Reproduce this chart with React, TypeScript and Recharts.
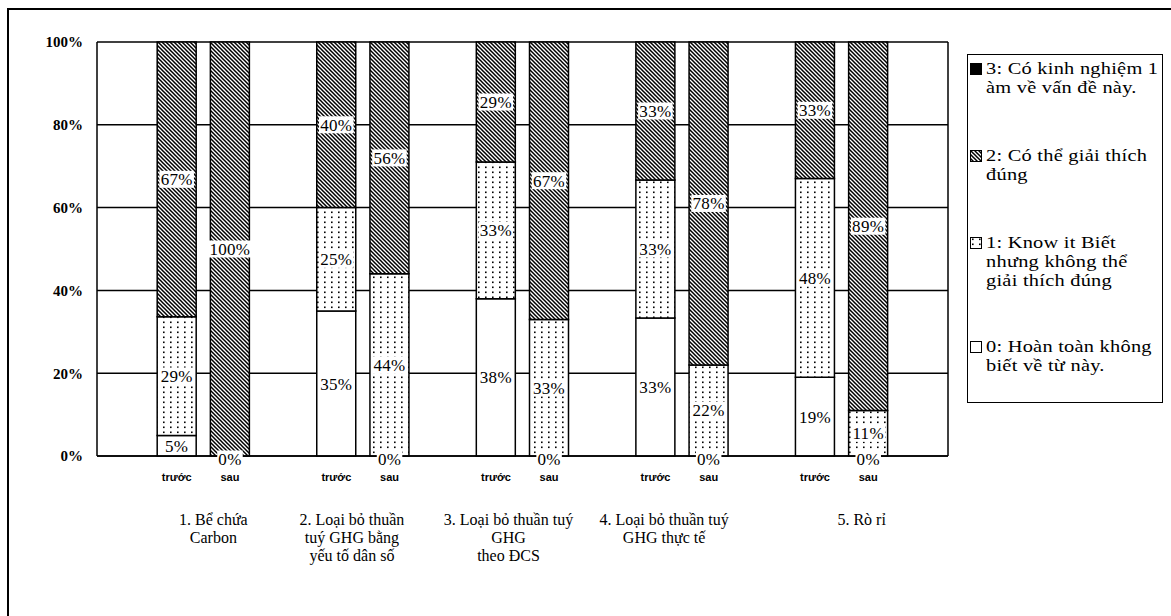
import React from "react";
import { BarChart, Bar, XAxis, YAxis, CartesianGrid, LabelList } from "recharts";

const W = 1171;
const H = 616;
// plot rectangle inside the chart
const PLOT = { left: 97, right: 948, top: 42, bottom: 456 };
const SLOT_HALF = (PLOT.right - PLOT.left) / 16 / 2;

const serif = "'Liberation Serif', 'Times New Roman', serif";
const sans = "'Liberation Sans', Arial, sans-serif";

// one empty slot before every pair and after the last one
const slotKinds = ["", "trước", "sau", "", "trước", "sau", "", "trước", "sau", "", "trước", "sau", "", "trước", "sau", ""];

const groupNames = [
  ["1. Bể chứa", "Carbon"],
  ["2. Loại bỏ thuần", "tuý GHG bằng", "yếu tố dân số"],
  ["3. Loại bỏ thuần tuý", "GHG", "theo ĐCS"],
  ["4. Loại bỏ thuần tuý", "GHG thực tế"],
  ["5. Rò rỉ"],
];
// nudges for the wrapped group captions
const groupShift = [10, -11, -14, -18, 20];

// share of answers (%), trước then sau for each group
const level0 = [5, 0, 35, 0, 38, 0, 33, 0, 19, 0];
const level1 = [29, null, 25, 44, 33, 33, 33, 22, 48, 11];
const level2 = [67, 100, 40, 56, 29, 67, 33, 78, 33, 89];
const level3 = [null, null, null, null, null, null, null, null, null, null];

const levelLegend = [
  ["0: Hoàn toàn không", "biết về từ này."],
  ["1: Know it Biết", "nhưng không thể", "giải thích đúng"],
  ["2: Có thể giải thích", "đúng"],
  ["3: Có kinh nghiệm 1", "àm về vấn đề này."],
];
const levelFill = ["#fff", "url(#dots)", "url(#hatch)", "#000"];

const yTicks = [0, 0.2, 0.4, 0.6, 0.8, 1];

let pairIdx = 0;
const rows = slotKinds.map((kind, i) => {
  const row: Record<string, any> = { slot: `s${i}`, kind, group: -1, l0: null, l1: null, l2: null, l3: null };
  if (kind) {
    row.group = Math.floor(pairIdx / 2);
    row.l0 = level0[pairIdx];
    row.l1 = level1[pairIdx];
    row.l2 = level2[pairIdx];
    row.l3 = level3[pairIdx];
    pairIdx++;
  }
  return row;
});

function labelWidth(text: string) {
  let w = 0;
  for (const ch of text) w += ch === "%" ? 14.5 : 9;
  return w + 2;
}

// value tag with a white box that breaks the fill pattern
function ValueTag({ cx, cy, value }: { cx: number; cy: number; value: number }) {
  const text = `${value}%`;
  const w = labelWidth(text);
  return (
    <g>
      <rect x={cx - w / 2} y={cy - 8.5} width={w} height={17} fill="#fff" />
      <text x={cx} y={cy + 6} textAnchor="middle" fontFamily={serif} fontSize={17} letterSpacing={0.3} fill="#000">
        {text}
      </text>
    </g>
  );
}

function SegmentLabel(props: any) {
  const { value } = props;
  if (value === null || value === undefined) return null;
  const vb = props.viewBox ?? props;
  return <ValueTag cx={vb.x + vb.width / 2} cy={vb.y + vb.height / 2} value={value} />;
}

function SlotTick({ x, y, payload }: any) {
  const row = rows[payload.index];
  if (!row || !row.kind) return <g />;
  const showGroup = row.kind === "trước";
  const lines = showGroup ? groupNames[row.group] : [];
  const gx = x + SLOT_HALF + groupShift[row.group];
  return (
    <g>
      {/* a zero-height bottom segment still carries its 0% tag on the baseline */}
      {row.l0 === 0 && <ValueTag cx={x} cy={y + 3} value={0} />}
      <text x={x} y={y + 25} textAnchor="middle" fontFamily={sans} fontWeight="bold" fontSize={11} fill="#000">
        {row.kind}
      </text>
      {lines.map((line: string, i: number) => (
        <text key={i} x={gx} y={y + 69 + i * 18} textAnchor="middle" fontFamily={serif} fontSize={16} fill="#000">
          {line}
        </text>
      ))}
    </g>
  );
}

function LegendIcon({ level }: { level: number }) {
  return (
    <svg width={12} height={12} style={{ display: "block" }}>
      <rect x={0.5} y={0.5} width={11} height={11} fill={levelFill[level]} stroke="#000" strokeWidth={1} />
    </svg>
  );
}

function LevelLegend() {
  const order = [3, 2, 1, 0];
  return (
    <div
      style={{
        position: "absolute",
        left: 967,
        top: 54,
        width: 196,
        height: 349,
        border: "1.5px solid #000",
        boxSizing: "border-box",
        padding: "4px 0 0 2px",
        fontFamily: serif,
        fontSize: 17,
        lineHeight: "19px",
        color: "#000",
      }}
    >
      {order.map((lv) => (
        <div key={lv} style={{ display: "flex", alignItems: "flex-start", marginBottom: lv === 1 ? 47 : 49 }}>
          <div style={{ width: 16, paddingTop: 4 }}>
            <LegendIcon level={lv} />
          </div>
          <div style={{ transform: "scaleX(1.2)", transformOrigin: "left center", letterSpacing: 0.2 }}>
            {levelLegend[lv].map((line, i) => (
              <div key={i} style={{ whiteSpace: "nowrap" }}>{line}</div>
            ))}
          </div>
        </div>
      ))}
    </div>
  );
}

export default function App() {
  const yAxisWidth = 60;
  return (
    <div style={{ position: "absolute", left: 0, top: 0, width: W, height: H, overflow: "hidden", background: "#fff" }}>
      <svg width={0} height={0} style={{ position: "absolute" }}>
        <defs>
          <pattern id="hatch" patternUnits="userSpaceOnUse" width={4} height={4}>
            <rect width={4} height={4} fill="#fff" />
            <path d="M-1,-1 L5,5 M-1,3 L1,5 M3,-1 L5,1" stroke="#000" strokeWidth={1.5} />
          </pattern>
          <pattern id="dots" patternUnits="userSpaceOnUse" width={7} height={5}>
            <rect width={7} height={5} fill="#fff" />
            <rect x={2} y={1.5} width={1.6} height={1.6} fill="#000" />
          </pattern>
        </defs>
      </svg>

      <div
        style={{
          position: "absolute",
          left: 7,
          top: 8,
          width: W + 20,
          height: H + 20,
          borderLeft: "2px solid #000",
          borderTop: "2px solid #000",
        }}
      />

      <div style={{ position: "absolute", left: 0, top: 0 }}>
        <BarChart
          width={W}
          height={H}
          data={rows}
          stackOffset="expand"
          barSize={39}
          margin={{
            top: PLOT.top,
            left: PLOT.left - yAxisWidth,
            right: W - PLOT.right - 1,
            bottom: H - PLOT.bottom - 120,
          }}
        >
          <CartesianGrid vertical={false} stroke="#000" strokeWidth={1.5} strokeOpacity={1} />
          <XAxis
            dataKey="slot"
            interval={0}
            height={120}
            tickLine={false}
            tickSize={0}
            tickMargin={0}
            axisLine={{ stroke: "#000", strokeWidth: 1.5 }}
            tick={<SlotTick />}
          />
          <YAxis
            width={yAxisWidth}
            domain={[0, 1]}
            ticks={yTicks}
            tickLine={false}
            tickMargin={8}
            axisLine={{ stroke: "#000", strokeWidth: 1.5 }}
            tickFormatter={(v: number) => `${Math.round(v * 100)}%`}
            tick={{ fill: "#000", fontFamily: serif, fontWeight: "bold", fontSize: 15 }}
          />
          <YAxis
            yAxisId="edge"
            orientation="right"
            width={1}
            domain={[0, 1]}
            tick={false}
            tickLine={false}
            axisLine={{ stroke: "#000", strokeWidth: 1.5 }}
          />
          {["l0", "l1", "l2", "l3"].map((key, lv) => (
            <Bar
              key={key}
              dataKey={key}
              stackId="share"
              fill={levelFill[lv]}
              stroke="#000"
              strokeWidth={1.5}
              isAnimationActive={false}
            >
              <LabelList dataKey={key} content={<SegmentLabel />} />
            </Bar>
          ))}
        </BarChart>
      </div>

      <LevelLegend />
    </div>
  );
}
